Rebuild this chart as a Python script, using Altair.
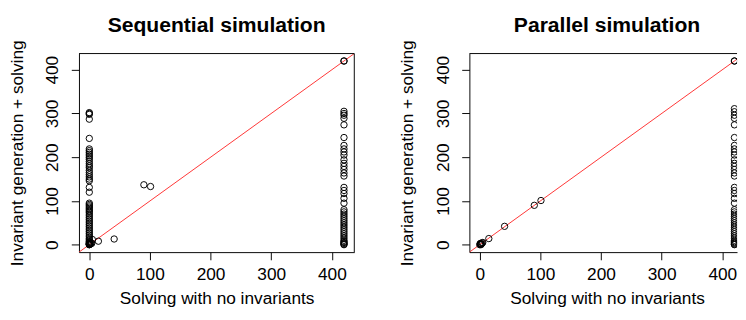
import altair as alt
import pandas as pd

# ---------------- data ----------------
# Sequential simulation
seq_col0_y = [302, 300, 298, 287, 243, 219, 215, 211, 207, 203, 199, 195, 190, 185,
              180, 176, 170, 165, 160, 155, 150, 146, 131, 120, 95, 92, 89, 86, 83,
              80, 77, 74, 70, 66, 62, 58, 54, 50, 46, 42, 38, 34, 30, 26, 22, 18,
              14, 11, 8, 6, 4, 3, 2, 1, 0]
seq_col420_y = [420, 420, 305, 300, 296, 289, 274, 245, 227, 219, 212, 205, 194, 186,
                179, 172, 164, 157, 131, 124, 117, 106, 95, 80, 75, 70, 65, 60, 55,
                50, 45, 40, 35, 30, 25, 20, 15, 10, 7, 5, 3, 1, 0]
seq_other_x = [90, 101, 41, 15, 5, 2, 1, 3, 0, 4]
seq_other_y = [137, 133, 13, 8, 12, 2, 1, 4, 0, 3]

# Parallel simulation
par_diag_x = [0, 1, 2, 3, 4, 5, 1, 2, 15, 41, 90, 101, 420, 420]
par_diag_y = [0, 1, 2, 2, 4, 5, 3, 0, 14, 42, 90, 101, 420, 420]
par_col420_y = [311, 304, 296, 289, 274, 245, 227, 219, 212, 205, 194, 186, 179, 172,
                164, 157, 131, 124, 117, 106, 95, 80, 75, 70, 65, 60, 55, 50, 45, 40,
                35, 30, 25, 20, 15, 10, 7, 5, 3, 1, 0]

ticks = [0, 100, 200, 300, 400]
diag = [-17, 437]

seq_df = pd.DataFrame({
    "x": [0] * len(seq_col0_y) + [420] * len(seq_col420_y) + seq_other_x,
    "y": seq_col0_y + seq_col420_y + seq_other_y,
})
par_df = pd.DataFrame({
    "x": par_diag_x + [420] * len(par_col420_y),
    "y": par_diag_y + par_col420_y,
})
diag_df = pd.DataFrame({"x": diag, "y": diag})
one = pd.DataFrame({"a": [0]})

H = 207
FONT = "Liberation Sans"


def panel(df, title, width, xmax, right_edge, title_dx, clip_pts):
    xs = alt.X("x:Q", scale=alt.Scale(domain=[-17, xmax], nice=False, zero=False),
               axis=alt.Axis(values=ticks, title="Solving with no invariants",
                             titleX=143.5))
    ys = alt.Y("y:Q", scale=alt.Scale(domain=[-17, 437], nice=False, zero=False),
               axis=alt.Axis(values=ticks, title="Invariant generation + solving",
                             labelAngle=270, labelAlign="center",
                             labelBaseline="alphabetic"))
    pts = alt.Chart(df).mark_point(shape="circle", filled=False, color="black",
                                   size=44, strokeWidth=1, opacity=1,
                                   clip=clip_pts).encode(x=xs, y=ys)
    line = alt.Chart(diag_df).mark_line(color="#ff3030", strokeWidth=1, clip=True).encode(
        x=alt.X("x:Q"), y=alt.Y("y:Q"))
    top = alt.Chart(one).mark_rule(color="black", strokeWidth=1).encode(
        x=alt.value(0), x2=alt.value(width), y=alt.value(0))
    layers = [line, pts, top]
    if right_edge:
        right = alt.Chart(one).mark_rule(color="black", strokeWidth=1).encode(
            x=alt.value(width), y=alt.value(0), y2=alt.value(H))
        layers.append(right)
    return alt.layer(*layers).properties(
        width=width, height=H,
        title=alt.TitleParams(title, fontSize=22, font=FONT, fontWeight="bold",
                              anchor="middle", color="black", offset=3, dx=title_dx),
    )


left = panel(seq_df, "Sequential simulation", 287, 437, True, 0, False)
right = panel(par_df, "Parallel simulation", 279, 424.3, False, 4, True)

chart = alt.hconcat(left, right, spacing=45).properties(
    padding=0
).configure_view(
    stroke=None
).configure_axis(
    grid=False, domainColor="black", tickColor="black", tickSize=8,
    labelFont=FONT, titleFont=FONT, labelFontSize=18, titleFontSize=18,
    titleFontWeight="normal", labelColor="black", titleColor="black",
    labelPadding=6.5, titlePadding=7,
).configure_axisY(labelPadding=14, titlePadding=19)

chart.save("out.html", embed_options={"renderer": "svg", "actions": False})
